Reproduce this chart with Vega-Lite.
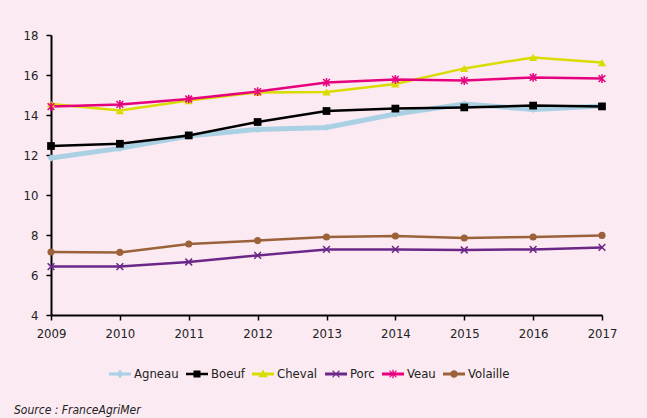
{
  "$schema": "https://vega.github.io/schema/vega-lite/v6.json",
  "width": 551,
  "height": 280,
  "autosize": {"type": "none"},
  "padding": {"left": 51, "top": 35, "right": 45, "bottom": 103},
  "background": "#fbeaf2",
  "config": {
    "view": {"stroke": null},
    "font": "DejaVu Sans Condensed",
    "axis": {"grid": false, "domainColor": "#000000", "domainWidth": 2, "tickColor": "#000000", "tickWidth": 1.5, "labelColor": "#222222", "labelFont": "DejaVu Sans Condensed", "labelFontSize": 13}
  },
  "title": {
    "text": "Source : FranceAgriMer",
    "orient": "bottom",
    "anchor": "start",
    "frame": "group",
    "dx": -37,
    "offset": 24,
    "font": "DejaVu Sans Condensed",
    "fontSize": 12,
    "fontStyle": "italic",
    "fontWeight": "normal",
    "color": "#222222"
  },
  "data": {
    "values": [
      {"year": 2009, "s": "Agneau", "v": 11.85}, {"year": 2010, "s": "Agneau", "v": 12.33}, {"year": 2011, "s": "Agneau", "v": 12.95}, {"year": 2012, "s": "Agneau", "v": 13.28}, {"year": 2013, "s": "Agneau", "v": 13.38}, {"year": 2014, "s": "Agneau", "v": 14.05}, {"year": 2015, "s": "Agneau", "v": 14.55}, {"year": 2016, "s": "Agneau", "v": 14.28}, {"year": 2017, "s": "Agneau", "v": 14.45},
      {"year": 2009, "s": "Boeuf", "v": 12.45}, {"year": 2010, "s": "Boeuf", "v": 12.56}, {"year": 2011, "s": "Boeuf", "v": 12.98}, {"year": 2012, "s": "Boeuf", "v": 13.65}, {"year": 2013, "s": "Boeuf", "v": 14.2}, {"year": 2014, "s": "Boeuf", "v": 14.32}, {"year": 2015, "s": "Boeuf", "v": 14.38}, {"year": 2016, "s": "Boeuf", "v": 14.47}, {"year": 2017, "s": "Boeuf", "v": 14.43},
      {"year": 2009, "s": "Cheval", "v": 14.55}, {"year": 2010, "s": "Cheval", "v": 14.22}, {"year": 2011, "s": "Cheval", "v": 14.72}, {"year": 2012, "s": "Cheval", "v": 15.13}, {"year": 2013, "s": "Cheval", "v": 15.15}, {"year": 2014, "s": "Cheval", "v": 15.55}, {"year": 2015, "s": "Cheval", "v": 16.33}, {"year": 2016, "s": "Cheval", "v": 16.88}, {"year": 2017, "s": "Cheval", "v": 16.62},
      {"year": 2009, "s": "Porc", "v": 6.42}, {"year": 2010, "s": "Porc", "v": 6.42}, {"year": 2011, "s": "Porc", "v": 6.65}, {"year": 2012, "s": "Porc", "v": 6.98}, {"year": 2013, "s": "Porc", "v": 7.28}, {"year": 2014, "s": "Porc", "v": 7.28}, {"year": 2015, "s": "Porc", "v": 7.25}, {"year": 2016, "s": "Porc", "v": 7.28}, {"year": 2017, "s": "Porc", "v": 7.38},
      {"year": 2009, "s": "Veau", "v": 14.42}, {"year": 2010, "s": "Veau", "v": 14.53}, {"year": 2011, "s": "Veau", "v": 14.8}, {"year": 2012, "s": "Veau", "v": 15.17}, {"year": 2013, "s": "Veau", "v": 15.63}, {"year": 2014, "s": "Veau", "v": 15.78}, {"year": 2015, "s": "Veau", "v": 15.72}, {"year": 2016, "s": "Veau", "v": 15.88}, {"year": 2017, "s": "Veau", "v": 15.82},
      {"year": 2009, "s": "Volaille", "v": 7.15}, {"year": 2010, "s": "Volaille", "v": 7.13}, {"year": 2011, "s": "Volaille", "v": 7.55}, {"year": 2012, "s": "Volaille", "v": 7.72}, {"year": 2013, "s": "Volaille", "v": 7.9}, {"year": 2014, "s": "Volaille", "v": 7.95}, {"year": 2015, "s": "Volaille", "v": 7.85}, {"year": 2016, "s": "Volaille", "v": 7.9}, {"year": 2017, "s": "Volaille", "v": 7.98}
    ]
  },
  "encoding": {
    "x": {"field": "year", "type": "quantitative", "scale": {"domain": [2009, 2017], "nice": false, "zero": false}, "axis": {"title": null, "values": [2009, 2010, 2011, 2012, 2013, 2014, 2015, 2016, 2017], "format": "d", "tickSize": 5, "labelPadding": 7, "labelFlush": false}},
    "y": {"field": "v", "type": "quantitative", "scale": {"domain": [4, 18], "nice": false, "zero": false}, "axis": {"title": null, "values": [4, 6, 8, 10, 12, 14, 16, 18], "tickSize": 5, "labelPadding": 8}}
  },
  "layer": [
    {
      "mark": {"type": "line"},
      "encoding": {
        "color": {
          "field": "s", "type": "nominal",
          "scale": {"domain": ["Agneau", "Boeuf", "Cheval", "Porc", "Veau", "Volaille"], "range": ["#a9d0e3", "#000000", "#d9dc00", "#6a2787", "#e6007e", "#9b6239"]},
          "legend": {
            "title": null, "orient": "none", "direction": "horizontal", "legendX": 58, "legendY": 328, "padding": 0,
            "columnPadding": 7, "labelOffset": 3, "labelFont": "DejaVu Sans Condensed", "labelFontSize": 13, "labelColor": "#222222",
            "symbolSize": 484,
            "encode": {
              "symbols": {
                "update": {
                  "shape": {"signal": "datum.value === 'Agneau' ? 'M-1,-0.14H1V0.14H-1ZM0,-0.4L0.3,0L0,0.4L-0.3,0Z' : datum.value === 'Boeuf' ? 'M-1,-0.12H1V0.12H-1ZM-0.32,-0.32H0.32V0.32H-0.32Z' : datum.value === 'Cheval' ? 'M-1,-0.14H1V0.14H-1ZM0,-0.42L0.42,0.3H-0.42Z' : datum.value === 'Porc' ? 'M-1,-0.14H1V0.14H-1ZM-0.35,-0.28L-0.28,-0.35L0,-0.07L0.28,-0.35L0.35,-0.28L0.07,0L0.35,0.28L0.28,0.35L0,0.07L-0.28,0.35L-0.35,0.28L-0.07,0Z' : datum.value === 'Veau' ? 'M-1,-0.14H1V0.14H-1ZM-0.35,-0.28L-0.28,-0.35L0,-0.07L0.28,-0.35L0.35,-0.28L0.07,0L0.35,0.28L0.28,0.35L0,0.07L-0.28,0.35L-0.35,0.28L-0.07,0ZM-0.06,-0.38H0.06V0.38H-0.06Z' : 'M-1,-0.14H1V0.14H-1ZM-0.34,0A0.34,0.34 0 1,1 0.34,0A0.34,0.34 0 1,1 -0.34,0Z'"},
                  "fill": {"scale": "color", "field": "value"},
                  "stroke": {"value": "transparent"},
                  "strokeWidth": {"value": 0},
                  "opacity": {"value": 1}
                }
              }
            }
          }
        },
        "strokeWidth": {"condition": {"test": "datum.s === 'Agneau'", "value": 5}, "value": 2.5}
      }
    },
    {
      "transform": [{"filter": "datum.s === 'Agneau'"}],
      "mark": {"type": "point", "shape": "diamond", "filled": true, "color": "#a9d0e3", "size": 55, "opacity": 1}
    },
    {
      "transform": [{"filter": "datum.s === 'Boeuf'"}],
      "mark": {"type": "point", "shape": "square", "filled": true, "color": "#000000", "size": 60, "opacity": 1}
    },
    {
      "transform": [{"filter": "datum.s === 'Cheval'"}],
      "mark": {"type": "point", "shape": "triangle-up", "filled": true, "color": "#d9dc00", "size": 70, "opacity": 1}
    },
    {
      "transform": [{"filter": "datum.s === 'Porc'"}],
      "mark": {"type": "point", "shape": "M-1,-1L1,1M-1,1L1,-1", "filled": false, "color": "#6a2787", "strokeWidth": 1.5, "size": 45, "opacity": 1}
    },
    {
      "transform": [{"filter": "datum.s === 'Veau'"}],
      "mark": {"type": "point", "shape": "M-1,-1L1,1M-1,1L1,-1M0,-1.3L0,1.3", "filled": false, "color": "#e6007e", "strokeWidth": 1.5, "size": 45, "opacity": 1}
    },
    {
      "transform": [{"filter": "datum.s === 'Volaille'"}],
      "mark": {"type": "point", "shape": "circle", "filled": true, "color": "#9b6239", "size": 50, "opacity": 1}
    }
  ]
}
